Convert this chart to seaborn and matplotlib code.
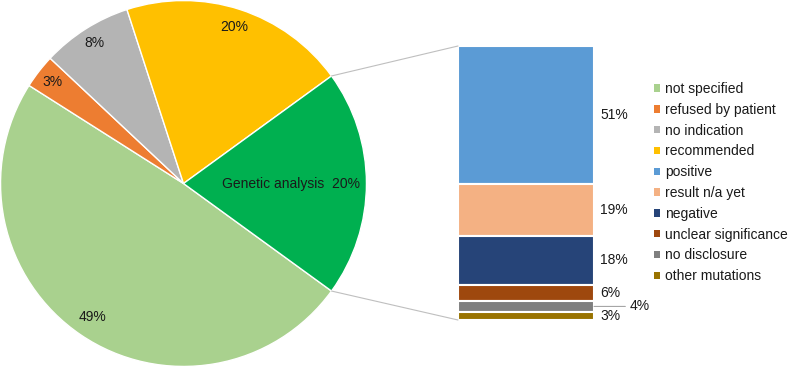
import matplotlib
matplotlib.use('Agg')
import matplotlib.pyplot as plt
from matplotlib.patches import Patch, ConnectionPatch
import numpy as np
import seaborn as sns

# pie: outer groups (legend order), last slice is exploded into the bar
pie_labels = ['not specified', 'refused by patient', 'no indication', 'recommended', 'Genetic analysis']
pie_values = [49, 3, 8, 20, 20]
pie_colors = ['#A9D18E', '#ED7D31', '#B4B4B4', '#FFC000', '#00B050']

# bar: breakdown of genetic analysis (top to bottom)
bar_labels = ['positive', 'result n/a yet', 'negative', 'unclear significance', 'no disclosure', 'other mutations']
bar_values = [51, 19, 18, 6, 4, 3]
bar_colors = ['#5B9BD5', '#F4B183', '#264478', '#9E480E', '#7F7F7F', '#997300']

sns.set_theme(style='white')
plt.rcParams['font.family'] = ['Liberation Sans', 'DejaVu Sans']
txt = '#1A1A1A'

W, H = 790, 367
fig = plt.figure(figsize=(W / 100, H / 100), dpi=100)

# ---- pie ----
ax_pie = fig.add_axes([0, 0, 367 / W, 1])
wedges, _ = ax_pie.pie(pie_values, colors=pie_colors, startangle=-36, counterclock=False,
                       radius=1, wedgeprops=dict(edgecolor='white', linewidth=1))
ax_pie.set_xlim(-1.003, 1.003)
ax_pie.set_ylim(-1.003, 1.003)
ax_pie.set_aspect('equal')
ax_pie.axis('off')

dist = [0.885, 0.905, 0.91, 0.9, 0.59]
total = sum(pie_values)
for w, lab, v, d in zip(wedges, pie_labels, pie_values, dist):
    ang = np.deg2rad((w.theta1 + w.theta2) / 2)
    s = f'{v / total * 100:.0f}%'
    if lab == 'Genetic analysis':
        s = lab + '  ' + s
    ax_pie.text(d * np.cos(ang), d * np.sin(ang), s, ha='center', va='center',
                fontsize=10, color=txt)

# ---- stacked bar ----
ax_bar = fig.add_axes([458 / W, (H - 320) / H, 136 / W, 274 / H])
btotal = sum(bar_values)
bottom = btotal
for lab, v, c in zip(bar_labels, bar_values, bar_colors):
    bottom -= v
    ax_bar.bar(0, v, bottom=bottom, width=1, color=c, edgecolor='white', linewidth=1.5)
    mid = bottom + v / 2
    if lab == 'no disclosure':
        ax_bar.annotate(f'{v}%', xy=(0.5, mid), xytext=(36, 0), textcoords='offset pixels',
                        ha='left', va='center', fontsize=10, color=txt,
                        arrowprops=dict(arrowstyle='-', color='#A6A6A6', lw=0.8,
                                        shrinkA=1, shrinkB=0, relpos=(0, 0.5)))
    else:
        ax_bar.annotate(f'{v}%', xy=(0.5, mid), xytext=(6, 0), textcoords='offset pixels',
                        ha='left', va='center', fontsize=10, color=txt)
ax_bar.set_xlim(-0.5, 0.5)
ax_bar.set_ylim(0, btotal)
ax_bar.axis('off')

# connector lines from genetic slice edges to bar corners
g = wedges[-1]
t_lo, t_hi = sorted([g.theta1, g.theta2])
for ang, yb in [(t_hi, btotal), (t_lo, 0)]:
    a = np.deg2rad(ang)
    con = ConnectionPatch(xyA=(np.cos(a), np.sin(a)), coordsA=ax_pie.transData,
                          xyB=(-0.5, yb), coordsB=ax_bar.transData,
                          color='#BFBFBF', lw=0.8)
    fig.add_artist(con)

# ---- legend ----
handles = [Patch(facecolor=c, edgecolor='none') for c in pie_colors[:-1] + bar_colors]
labels = pie_labels[:-1] + bar_labels
fig.legend(handles, labels, loc='upper left', bbox_to_anchor=(654 / W, 1 - 82 / H),
           frameon=False, fontsize=10, handlelength=0.45, handleheight=0.45,
           handletextpad=0.35, labelspacing=0.49, borderpad=0, borderaxespad=0,
           labelcolor=txt)

plt.savefig('out.png', dpi=100)
